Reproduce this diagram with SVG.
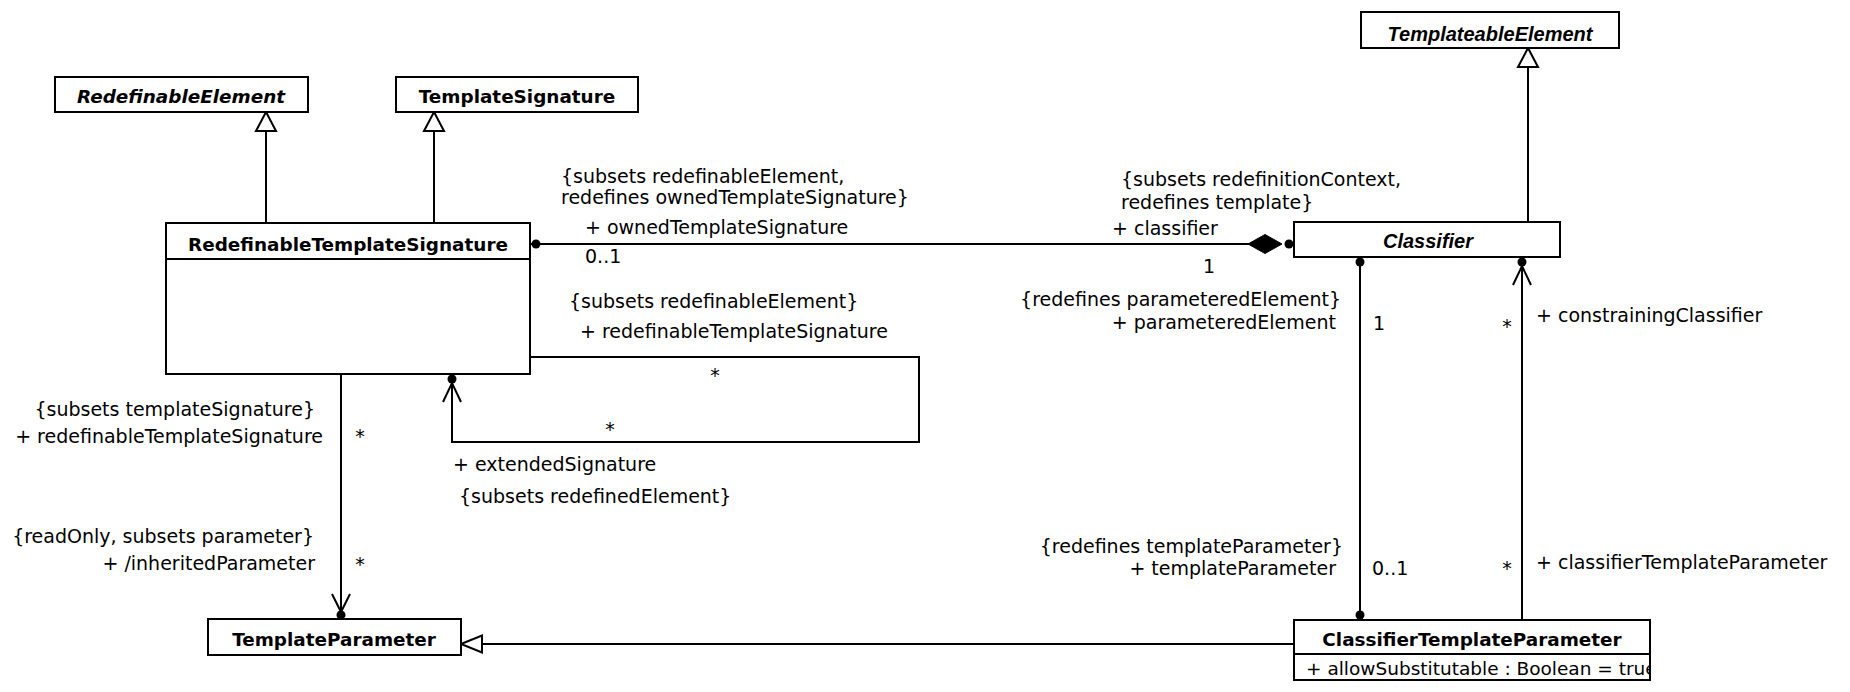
<svg xmlns="http://www.w3.org/2000/svg" width="1850" height="692" viewBox="0 0 1850 692">
<style>
.box{fill:#fff;stroke:#000;stroke-width:2}
.cls{font-family:"DejaVu Sans",sans-serif;font-weight:bold;font-size:18.4px;text-anchor:middle;fill:#000}
.abs{font-family:"DejaVu Sans",sans-serif;font-weight:bold;font-style:italic;font-size:18.4px;text-anchor:middle;fill:#000}
.abs2{font-family:"Liberation Sans",Arial,sans-serif;font-weight:bold;font-style:italic;font-size:20px;text-anchor:middle;fill:#000}
.lbl{font-family:"DejaVu Sans",sans-serif;font-size:19px;fill:#000}
.end{text-anchor:end}
.mid{text-anchor:middle}
.ln{fill:none;stroke:#000;stroke-width:2}
.tri{fill:#fff;stroke:#000;stroke-width:2;stroke-linejoin:miter}
.dot{fill:#000}
.dia{fill:#000;stroke:#000;stroke-width:1}
</style>
<defs>
<clipPath id="ctpClip"><rect x="1294" y="654" width="356" height="27"/></clipPath>
</defs>

<g id="connectors">
  <!-- generalization RTS -> RedefinableElement -->
  <line class="ln" x1="266" y1="223" x2="266" y2="131"/>
  <polygon class="tri" points="266,112 256,131 276,131"/>
  <!-- generalization RTS -> TemplateSignature -->
  <line class="ln" x1="434" y1="223" x2="434" y2="131"/>
  <polygon class="tri" points="434,112 424,131 444,131"/>
  <!-- generalization Classifier -> TemplateableElement -->
  <line class="ln" x1="1528" y1="222" x2="1528" y2="67"/>
  <polygon class="tri" points="1528,48 1518,67 1538,67"/>
  <!-- generalization CTP -> TemplateParameter -->
  <line class="ln" x1="1294" y1="644" x2="482" y2="644"/>
  <polygon class="tri" points="461,644 482,635.5 482,652.5"/>

  <!-- composition RTS - Classifier -->
  <line class="ln" x1="530" y1="244" x2="1249" y2="244"/>
  <circle class="dot" cx="536" cy="244" r="4.5"/>
  <polygon class="dia" points="1248,244 1265,234.5 1282,244 1265,253.5"/>
  <circle class="dot" cx="1289" cy="244" r="4.5"/>

  <!-- self association RTS -->
  <path class="ln" d="M530,357 H919 V442 H452 V382"/>
  <circle class="dot" cx="452" cy="379" r="4.5"/>
  <path class="ln" d="M443,402 L452,383 L461,402"/>

  <!-- RTS -> TemplateParameter -->
  <line class="ln" x1="341" y1="374" x2="341" y2="612"/>
  <path class="ln" d="M332,594 L341,612 L350,594"/>
  <circle class="dot" cx="341" cy="615" r="4.5"/>

  <!-- Classifier - CTP (parameteredElement / templateParameter) -->
  <line class="ln" x1="1360" y1="257" x2="1360" y2="620"/>
  <circle class="dot" cx="1360" cy="262" r="4.5"/>
  <circle class="dot" cx="1360" cy="615" r="4.5"/>

  <!-- CTP -> Classifier (constrainingClassifier) -->
  <line class="ln" x1="1522" y1="620" x2="1522" y2="266"/>
  <circle class="dot" cx="1522" cy="262" r="4.5"/>
  <path class="ln" d="M1513,285 L1522,266 L1531,285"/>

  <!-- labels: composition -->
  <text class="lbl" x="561" y="183">{subsets redefinableElement,</text>
  <text class="lbl" x="561" y="204">redefines ownedTemplateSignature}</text>
  <text class="lbl" x="585" y="234">+ ownedTemplateSignature</text>
  <text class="lbl" x="585" y="263">0..1</text>
  <text class="lbl" x="1121" y="186">{subsets redefinitionContext,</text>
  <text class="lbl" x="1121" y="209">redefines template}</text>
  <text class="lbl" x="1112" y="235">+ classifier</text>
  <text class="lbl" x="1203" y="273">1</text>

  <!-- labels: self association -->
  <text class="lbl" x="569" y="308">{subsets redefinableElement}</text>
  <text class="lbl" x="580" y="338">+ redefinableTemplateSignature</text>
  <text class="lbl mid" x="715" y="382">*</text>
  <text class="lbl mid" x="610" y="436">*</text>
  <text class="lbl" x="453" y="471">+ extendedSignature</text>
  <text class="lbl" x="459" y="503">{subsets redefinedElement}</text>

  <!-- labels: RTS - TemplateParameter -->
  <text class="lbl end" x="315" y="416">{subsets templateSignature}</text>
  <text class="lbl end" x="323" y="443">+ redefinableTemplateSignature</text>
  <text class="lbl mid" x="360" y="443">*</text>
  <text class="lbl end" x="314" y="543">{readOnly, subsets parameter}</text>
  <text class="lbl end" x="315" y="570">+ /inheritedParameter</text>
  <text class="lbl mid" x="360" y="571">*</text>

  <!-- labels: Classifier - CTP -->
  <text class="lbl end" x="1341" y="306">{redefines parameteredElement}</text>
  <text class="lbl end" x="1336" y="329">+ parameteredElement</text>
  <text class="lbl" x="1373" y="330">1</text>
  <text class="lbl mid" x="1507" y="333">*</text>
  <text class="lbl" x="1536" y="322">+ constrainingClassifier</text>
  <text class="lbl end" x="1343" y="553">{redefines templateParameter}</text>
  <text class="lbl end" x="1336" y="575">+ templateParameter</text>
  <text class="lbl" x="1372" y="575">0..1</text>
  <text class="lbl mid" x="1507" y="575">*</text>
  <text class="lbl" x="1536" y="569">+ classifierTemplateParameter</text>
</g>

<g id="RedefinableElement">
  <rect class="box" x="55" y="77" width="253" height="35"/>
  <text class="abs" x="181" y="103">RedefinableElement</text>
</g>
<g id="TemplateSignature">
  <rect class="box" x="396" y="77" width="242" height="35"/>
  <text class="cls" x="517" y="103">TemplateSignature</text>
</g>
<g id="RedefinableTemplateSignature">
  <rect class="box" x="166" y="223" width="364" height="151"/>
  <line class="ln" x1="166" y1="259" x2="530" y2="259"/>
  <text class="cls" x="348" y="251">RedefinableTemplateSignature</text>
</g>
<g id="TemplateableElement">
  <rect class="box" x="1361" y="12" width="258" height="36"/>
  <text class="abs2" x="1490" y="41">TemplateableElement</text>
</g>
<g id="Classifier">
  <rect class="box" x="1294" y="222" width="266" height="35"/>
  <text class="abs2" x="1428" y="248">Classifier</text>
</g>
<g id="TemplateParameter">
  <rect class="box" x="208" y="619" width="253" height="36"/>
  <text class="cls" x="334" y="646">TemplateParameter</text>
</g>
<g id="ClassifierTemplateParameter">
  <rect class="box" x="1294" y="620" width="356" height="60"/>
  <line class="ln" x1="1294" y1="654" x2="1650" y2="654"/>
  <text class="cls" x="1472" y="646">ClassifierTemplateParameter</text>
  <text class="lbl" x="1306" y="675" style="font-size:18.5px" clip-path="url(#ctpClip)">+ allowSubstitutable : Boolean = true</text>
</g>
</svg>
